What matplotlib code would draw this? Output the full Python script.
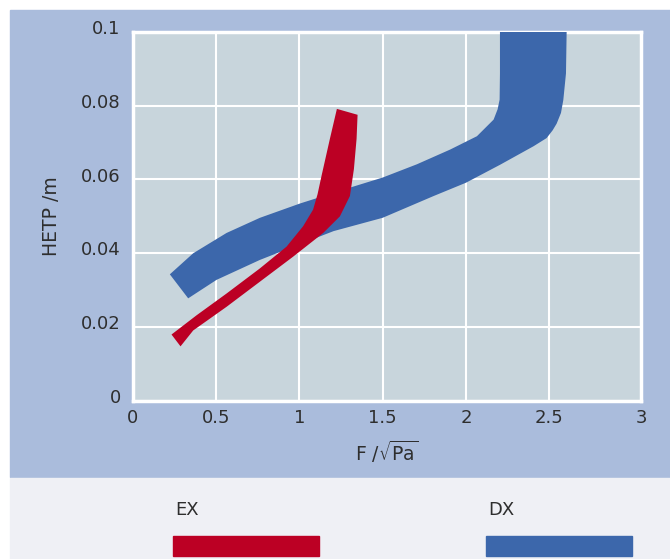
import matplotlib
matplotlib.use('Agg')
import matplotlib.pyplot as plt
from matplotlib.patches import Rectangle
from matplotlib.transforms import ScaledTranslation

plt.rcParams['font.family'] = ['DejaVu Sans']
plt.rcParams['mathtext.fontset'] = 'dejavusans'

# EX band outline: upper/left edge from the bottom tip up, then lower/right edge back down
ex_f = [0.234, 0.384, 0.564, 0.764, 0.924, 1.023, 1.083, 1.11, 1.134, 1.184, 1.226,
        1.35, 1.344, 1.328, 1.304, 1.244, 1.144, 0.964, 0.764, 0.564, 0.364, 0.288]
ex_hetp = [0.018, 0.0232, 0.0291, 0.0359, 0.0418, 0.0473, 0.0518, 0.056, 0.061, 0.071, 0.0791,
           0.0775, 0.071, 0.0628, 0.0555, 0.05, 0.0455, 0.0391, 0.0323, 0.0255, 0.0191, 0.0148]

# DX band outline: upper edge left to right, then lower edge back
dx_f = [0.224, 0.364, 0.564, 0.764, 1.006, 1.306, 1.5, 1.706, 1.906, 2.066, 2.166,
        2.19, 2.202, 2.204, 2.204,
        2.604, 2.6, 2.584, 2.57, 2.544, 2.52, 2.484, 2.406, 2.206, 2.0, 1.806, 1.5, 1.206,
        1.006, 0.764, 0.504, 0.334]
dx_hetp = [0.0343, 0.04, 0.0455, 0.0496, 0.0535, 0.0578, 0.0605, 0.0641, 0.0681, 0.0717, 0.0762,
           0.079, 0.0816, 0.0887, 0.1,
           0.1, 0.0887, 0.0815, 0.078, 0.0751, 0.0733, 0.0712, 0.069, 0.064, 0.0591, 0.0555,
           0.0496, 0.046, 0.0425, 0.0382, 0.0328, 0.0278]

x_ticks = [0, 0.5, 1, 1.5, 2, 2.5, 3]
x_labels = ['0', '0.5', '1', '1.5', '2', '2.5', '3']
y_ticks = [0, 0.02, 0.04, 0.06, 0.08, 0.1]
y_labels = ['0', '0.02', '0.04', '0.06', '0.08', '0.1']

series = ['EX', 'DX']
colors = {'EX': '#bc0024', 'DX': '#3c67ab'}
txt = '#2e2e2e'

W, H = 670, 559
fig = plt.figure(figsize=(W / 100, H / 100), dpi=100)
fig.patch.set_facecolor('white')

# background panels
fig.patches.append(Rectangle((10 / W, 1 - 477 / H), 660 / W, 467 / H,
                             transform=fig.transFigure, color='#aabcdc', zorder=-10))
fig.patches.append(Rectangle((10 / W, 0), 660 / W, 1 - 477 / H - 0.002,
                             transform=fig.transFigure, color='#eff0f5', zorder=-10))

ax = fig.add_axes([132.5 / W, 1 - 401 / H, 508.5 / W, 369.3 / H])
ax.set_facecolor('#c8d5dc')
ax.fill(dx_f, dx_hetp, color=colors['DX'], lw=0, zorder=3)
ax.fill(ex_f, ex_hetp, color=colors['EX'], lw=0, zorder=4)

# the last column of the original grid is a bit wider than the others
ax.set_xlim(0, 3.05)
ax.set_ylim(0, 0.1)
ax.set_xticks(x_ticks, x_labels)
ax.set_yticks(y_ticks, y_labels)
ax.grid(True, color='white', lw=1.5, zorder=1)
ax.set_axisbelow(True)
ax.get_xgridlines()[-1].set_visible(False)
for s in ax.spines.values():
    s.set_color('white')
    s.set_linewidth(2.5)
ax.tick_params(length=0, labelsize=13, colors=txt)
ax.tick_params(axis='x', pad=6)
ax.tick_params(axis='y', pad=8.5)
for lab in ax.get_yticklabels():
    lab.set_transform(lab.get_transform() + ScaledTranslation(0, 3.5 / 72, fig.dpi_scale_trans))
last = ax.get_xticklabels()[-1]
last.set_transform(last.get_transform() + ScaledTranslation(6 / 72, 0, fig.dpi_scale_trans))

ax.set_ylabel('HETP /m', fontsize=13.5, color=txt, va='center')
ax.yaxis.set_label_coords(-0.160, 0.5)
ax.set_xlabel(r'F /$\sqrt{\mathrm{Pa}}$', fontsize=13.5, color=txt, va='center')
ax.xaxis.set_label_coords(0.5, -0.138)

# legend row at the bottom
leg_x = {'EX': 173, 'DX': 486}
for name in series:
    fig.text((leg_x[name] + 2) / W, 1 - 510 / H, name, fontsize=13, color=txt,
             ha='left', va='center')
    fig.patches.append(Rectangle((leg_x[name] / W, 1 - 556 / H), 146 / W, 20 / H,
                                 transform=fig.transFigure, color=colors[name], zorder=2))

fig.savefig('out.png', dpi=100)
